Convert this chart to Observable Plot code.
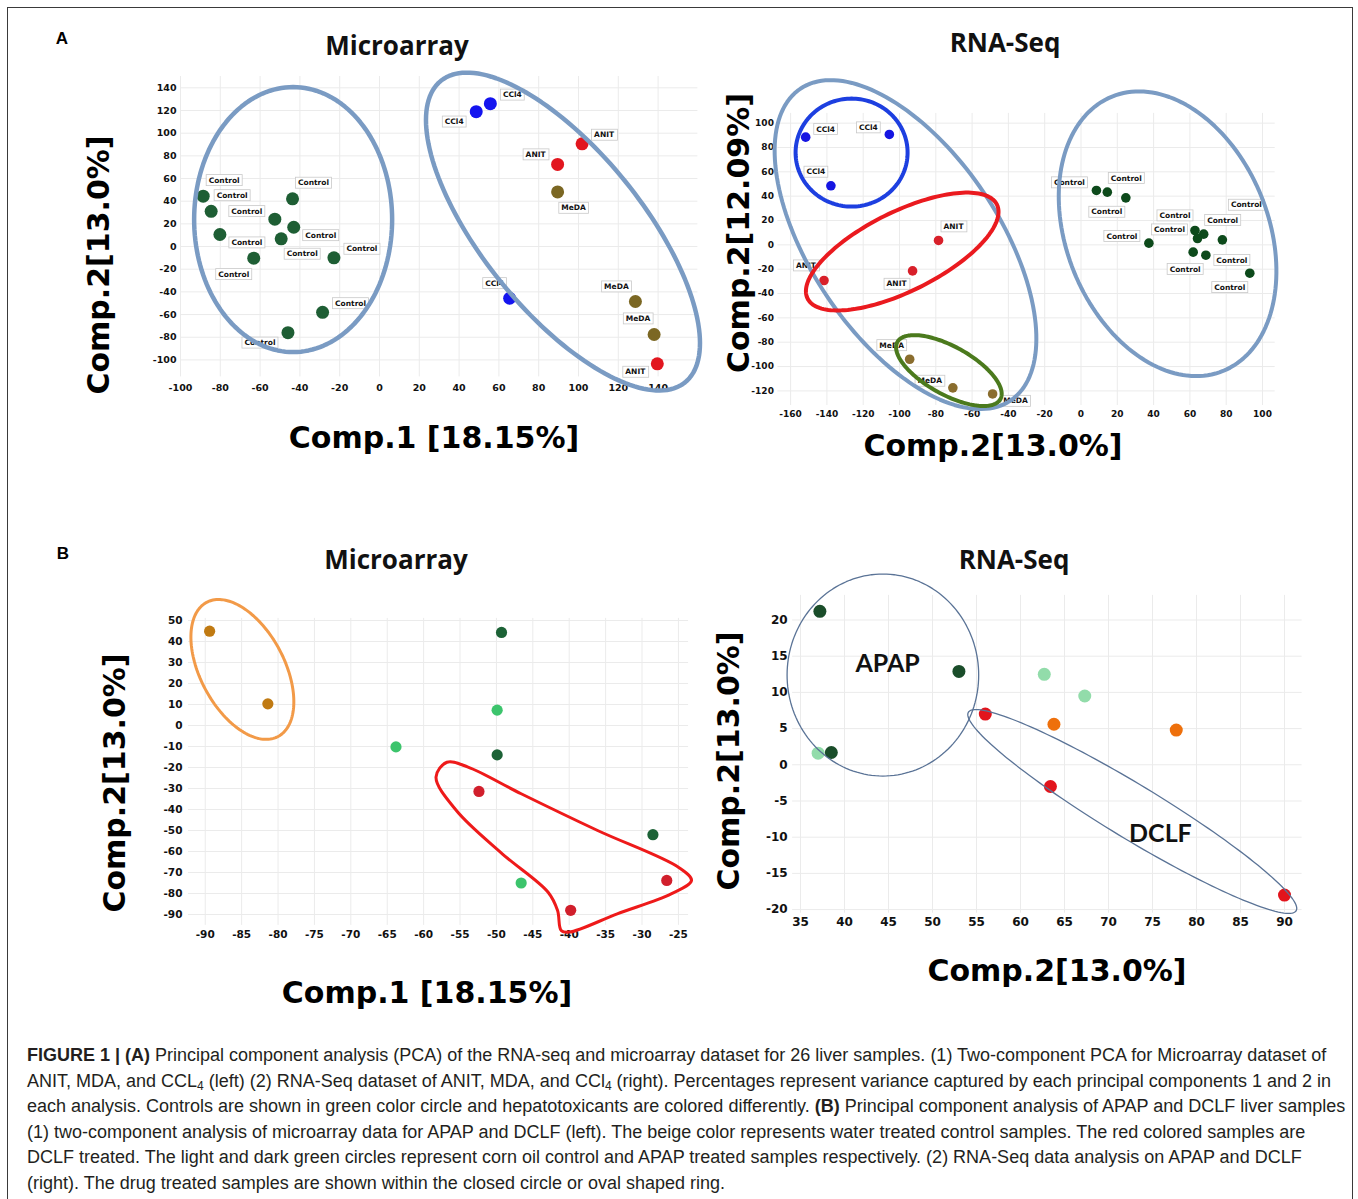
<!DOCTYPE html>
<html>
<head>
<meta charset="utf-8">
<script src="https://cdn.jsdelivr.net/npm/d3@7"></script>
<script src="https://cdn.jsdelivr.net/npm/@observablehq/plot@0.6"></script>
<style>
  body { margin: 0; background: #fff; }
  #fig { position: relative; width: 1358px; height: 1199px; overflow: hidden; background: #fff; font-family: "Liberation Sans", Arial, sans-serif; }
  .abs { position: absolute; }
  .frame { left: 7px; top: 7px; width: 1346px; height: 1240px; border: 1.5px solid #3a3a3a; box-sizing: border-box; }
  .letter { font-weight: bold; font-size: 17px; color: #000; transform: translate(-50%, -50%); }
  .title { font-family: "Open Sans", Lato, sans-serif; font-weight: 700; font-size: 26px; color: #111; transform: translate(-50%, -50%); white-space: nowrap; }
  .axt { font-family: "DejaVu Sans", sans-serif; font-weight: bold; font-size: 30px; color: #000; white-space: nowrap; transform: translate(-50%, -50%); }
  .axt.rot { transform: translate(-50%, -50%) rotate(-90deg); }
  .caption { left: 27px; top: 1043px; font-size: 18px; line-height: 25.6px; color: #231f20; }
  .caption div { white-space: nowrap; }
  .caption sub { font-size: 12px; vertical-align: -3px; line-height: 0; }
</style>
</head>
<body>
<div id="fig">
  <div class="abs frame"></div>
  <div class="abs letter" style="left:62px;top:39px">A</div>
  <div class="abs letter" style="left:63px;top:554px">B</div>
  <div class="abs title" style="left:397px;top:45px">Microarray</div>
  <div class="abs title" style="left:1005px;top:42px">RNA-Seq</div>
  <div class="abs title" style="left:396px;top:559px">Microarray</div>
  <div class="abs title" style="left:1014px;top:559px">RNA-Seq</div>
  <div class="abs axt rot" style="left:98px;top:265px">Comp.2[13.0%]</div>
  <div class="abs axt" style="left:434px;top:437px">Comp.1 [18.15%]</div>
  <div class="abs axt rot" style="left:738px;top:233px">Comp.2[12.09%]</div>
  <div class="abs axt" style="left:993px;top:445px">Comp.2[13.0%]</div>
  <div class="abs axt rot" style="left:114px;top:783px">Comp.2[13.0%]</div>
  <div class="abs axt" style="left:427px;top:992px">Comp.1 [18.15%]</div>
  <div class="abs axt rot" style="left:728px;top:761px">Comp.2[13.0%]</div>
  <div class="abs axt" style="left:1057px;top:970px">Comp.2[13.0%]</div>
  <div class="abs caption">
    <div><b>FIGURE 1 | (A)</b> Principal component analysis (PCA) of the RNA-seq and microarray dataset for 26 liver samples. (1) Two-component PCA for Microarray dataset of</div>
    <div>ANIT, MDA, and CCL<sub>4</sub> (left) (2) RNA-Seq dataset of ANIT, MDA, and CCl<sub>4</sub> (right). Percentages represent variance captured by each principal components 1 and 2 in</div>
    <div>each analysis. Controls are shown in green color circle and hepatotoxicants are colored differently. <b>(B)</b> Principal component analysis of APAP and DCLF liver samples</div>
    <div>(1) two-component analysis of microarray data for APAP and DCLF (left). The beige color represents water treated control samples. The red colored samples are</div>
    <div>DCLF treated. The light and dark green circles represent corn oil control and APAP treated samples respectively. (2) RNA-Seq data analysis on APAP and DCLF</div>
    <div>(right). The drug treated samples are shown within the closed circle or oval shaped ring.</div>
  </div>
</div>
<script>
// ---------------- DATA ----------------
// Panel A, Microarray (Comp.1, Comp.2)
const aMicroControlX = [-88.6, -84.6, -80.2, -63.2, -52.6, -49.4, -43.7, -43.1, -22.9, -28.6, -46.0];
const aMicroControlY = [44.4, 31.1, 10.6, -10.3, 24.1, 6.8, 42.1, 17.0, -10.0, -58.0, -76.0];
const aMicroCCl4X = [48.6, 55.7, 65.4];
const aMicroCCl4Y = [119, 126, -45.6];
const aMicroANITX = [101.8, 89.5, 139.6];
const aMicroANITY = [90.6, 72.4, -103.5];
const aMicroMeDAX = [89.5, 128.6, 138.0];
const aMicroMeDAY = [48.2, -48.5, -77.6];
const aMicroXTicks = [-100, -80, -60, -40, -20, 0, 20, 40, 60, 80, 100, 120, 140];
const aMicroYTicks = [-100, -80, -60, -40, -20, 0, 20, 40, 60, 80, 100, 120, 140];

// Panel A, RNA-Seq
const aRnaControlX = [8.5, 14.5, 24.7, 37.4, 62.8, 67.6, 64.2, 77.9, 61.8, 68.8, 93.0];
const aRnaControlY = [44.7, 43.3, 38.6, 1.4, 11.8, 8.8, 5.2, 4.1, -6.0, -8.5, -23.3];
const aRnaCCl4X = [-151.7, -105.6, -137.8];
const aRnaCCl4Y = [88.5, 90.7, 48.5];
const aRnaANITX = [-78.5, -92.8, -141.6];
const aRnaANITY = [3.6, -21.4, -29.3];
const aRnaMeDAX = [-94.4, -70.6, -48.7];
const aRnaMeDAY = [-94.0, -117.5, -122.5];
const aRnaXTicks = [-160, -140, -120, -100, -80, -60, -40, -20, 0, 20, 40, 60, 80, 100];
const aRnaYTicks = [-120, -100, -80, -60, -40, -20, 0, 20, 40, 60, 80, 100];

// Panel B, Microarray
const bMicroWaterX = [-89.4, -81.4];
const bMicroWaterY = [44.9, 10.3];
const bMicroAPAPX = [-49.3, -49.9, -28.5];
const bMicroAPAPY = [44.3, -14.0, -52.0];
const bMicroCornOilX = [-49.9, -63.8, -46.6];
const bMicroCornOilY = [7.3, -10.2, -75.0];
const bMicroDCLFX = [-52.4, -39.8, -26.6];
const bMicroDCLFY = [-31.4, -88.0, -73.8];
const bMicroXTicks = [-90, -85, -80, -75, -70, -65, -60, -55, -50, -45, -40, -35, -30, -25];
const bMicroYTicks = [-90, -80, -70, -60, -50, -40, -30, -20, -10, 0, 10, 20, 30, 40, 50];

// Panel B, RNA-Seq
const bRnaAPAPX = [37.2, 53.0, 38.5];
const bRnaAPAPY = [21.2, 12.9, 1.7];
const bRnaCornOilX = [37.0, 62.7, 67.3];
const bRnaCornOilY = [1.6, 12.5, 9.5];
const bRnaDCLFX = [56.0, 63.4, 90.0];
const bRnaDCLFY = [7.0, -3.0, -18.0];
const bRnaWaterX = [63.8, 77.7];
const bRnaWaterY = [5.6, 4.8];
const bRnaXTicks = [35, 40, 45, 50, 55, 60, 65, 70, 75, 80, 85, 90];
const bRnaYTicks = [-20, -15, -10, -5, 0, 5, 10, 15, 20];

// ---------------- ANNOTATION LAYOUT (label offsets in px, rings) ----------------
const aMicroControlOff = [[21,-16],[21,-16],[27,8],[-20,16],[-28,-8],[21,15],[21,-16],[27,8],[28,-9],[28,-9],[-28,10]];
const aMicroCCl4Off = [[-22,10],[22,-9],[-15,-15]];
const aMicroANITOff = [[22,-9],[-22,-10],[-22,8]];
const aMicroMeDAOff = [[16,16],[-19,-15],[-16,-16]];
const aRnaControlOff = [[-27,-8],[19,-14],[-19,14],[-27,-7],[-20,-15],[19,-14],[-28,-9],[24,-35],[-8,17],[26,5],[-20,14]];
const aRnaCCl4Off = [[20,-8],[-21,-7],[-15,-14]];
const aRnaANITOff = [[15,-14],[-16,13],[-18,-15]];
const aRnaMeDAOff = [[-18,-14],[-23,-7],[23,7]];

const steel = "#7a9bc3";
const aMicroRings = [
  {cx: -43.4, cy: 23.8, a: 99, b: 132.5, angle: 0, color: steel, width: 4.5},
  {cx: 92.2, cy: 13.2, a: 194, b: 80, angle: 51, color: steel, width: 4.5}
];
const aRnaRings = [
  {cx: -96.7, cy: 0.2, a: 188, b: 94, angle: 56, color: steel, width: 4},
  {cx: 47.7, cy: 9.1, a: 148, b: 101, angle: 68, color: steel, width: 4},
  {cx: -126.4, cy: 75.8, a: 56, b: 54, angle: 0, color: "#1d3fe0", width: 4},
  {cx: -98.5, cy: -5.5, a: 105.7, b: 39.7, angle: -26.4, color: "#ea1a1f", width: 4},
  {cx: -72.8, cy: -103.3, a: 58.9, b: 24, angle: 29, color: "#4b7a1d", width: 4}
];
const bMicroRings = [
  {cx: -84.9, cy: 26.7, a: 76, b: 42, angle: 62, color: "#f29a48", width: 3}
];
const bMicroDCLFOutlineX = [-56.8, -58.3, -55.5, -49.2, -42.9, -41.6, -41.1, -40.0, -33.4, -26.0, -23.2, -25.0, -36.1, -46.6, -53.9];
const bMicroDCLFOutlineY = [-17.5, -24.6, -40.5, -61.1, -79.4, -88.1, -97.6, -98.4, -89.7, -80.2, -73.8, -67.5, -50.0, -32.5, -19.8];
const bRnaRings = [
  {cx: 44.36, cy: 12.4, a: 95.8, b: 101, angle: 0, color: "#5a7396", width: 1.3},
  {cx: 72.7, cy: -6.45, a: 191.6, b: 27, angle: 31.2, color: "#5a7396", width: 1.3}
];
const bRnaNoteText = ["APAP", "DCLF"];
const bRnaNoteX = [44.9, 75.9];
const bRnaNoteY = [13.9, -9.5];

// ---------------- RENDER ----------------
const NS = "http://www.w3.org/2000/svg";
const boxedWords = new Set(["Control", "CCl4", "ANIT", "MeDA"]);
const fig = document.getElementById("fig");
const pts = (xs, ys) => xs.map((x, i) => ({x, y: ys[i]}));

function ringPoints(r, kx, ky) {
  const out = [];
  const th = r.angle * Math.PI / 180;
  const n = 160;
  for (let i = 0; i < n; i++) {
    const t = i / n * 2 * Math.PI;
    const ox = r.a * Math.cos(t) * Math.cos(th) - r.b * Math.sin(t) * Math.sin(th);
    const oy = r.a * Math.cos(t) * Math.sin(th) + r.b * Math.sin(t) * Math.cos(th);
    out.push({x: r.cx + ox / kx, y: r.cy - oy / ky});
  }
  return out;
}

function panel(cfg) {
  const [L, T, W, H] = cfg.box;
  const [x0, x1, y0, y1] = cfg.area;
  const kx = (x1 - x0) / (cfg.xDomain[1] - cfg.xDomain[0]);
  const ky = (y1 - y0) / (cfg.yDomain[1] - cfg.yDomain[0]);
  const marks = [
    Plot.ruleX(cfg.xTicks, {stroke: "#ebebeb", strokeWidth: 1}),
    Plot.ruleY(cfg.yTicks, {stroke: "#ebebeb", strokeWidth: 1})
  ];
  for (const s of cfg.series) {
    marks.push(Plot.dot(pts(s.xs, s.ys), {x: "x", y: "y", r: cfg.r, fill: s.color, stroke: s.edge || "none", strokeWidth: 0.6}));
  }
  const labelRows = [];
  for (const s of cfg.series) {
    if (!s.off) continue;
    s.xs.forEach((x, i) => {
      const o = s.off[i];
      labelRows.push({x: x + o[0] / kx, y: s.ys[i] - o[1] / ky, t: s.name});
    });
  }
  if (labelRows.length) {
    marks.push(Plot.text(labelRows, {x: "x", y: "y", text: "t", fontSize: cfg.labelSize, fontWeight: "bold", fontFamily: "DejaVu Sans", fill: "#111"}));
  }
  for (const r of (cfg.rings || [])) {
    marks.push(Plot.line(ringPoints(r, kx, ky), {x: "x", y: "y", stroke: r.color, strokeWidth: r.width, curve: "linear-closed"}));
  }
  for (const sh of (cfg.shapes || [])) {
    marks.push(Plot.line(pts(sh.xs, sh.ys), {x: "x", y: "y", stroke: sh.color, strokeWidth: sh.width, curve: "catmull-rom-closed"}));
  }
  if (cfg.notes) {
    marks.push(Plot.text(cfg.notes, {x: "x", y: "y", text: "t", fontSize: 25, fontFamily: "Lato, 'Open Sans', sans-serif", fill: "#111"}));
  }
  const svg = Plot.plot({
    width: W, height: H,
    marginLeft: x0 - L, marginRight: L + W - x1, marginTop: y0 - T, marginBottom: T + H - y1,
    x: {domain: cfg.xDomain, ticks: cfg.xTicks, tickSize: 0, tickPadding: cfg.xPad, tickFormat: d => String(d), label: null},
    y: {domain: cfg.yDomain, ticks: cfg.yTicks, tickSize: 0, tickPadding: cfg.yPad, tickFormat: d => String(d), label: null},
    style: {fontFamily: "DejaVu Sans", fontWeight: "bold", fontSize: cfg.tickSize + "px", color: "#111", background: "transparent", overflow: "visible"},
    marks
  });
  svg.style.position = "absolute";
  svg.style.left = L + "px";
  svg.style.top = T + "px";
  svg.style.overflow = "visible";
  fig.appendChild(svg);
  // white boxes behind sample labels
  svg.querySelectorAll("text").forEach(t => {
    if (!boxedWords.has(t.textContent)) return;
    const b = t.getBBox();
    const rect = document.createElementNS(NS, "rect");
    rect.setAttribute("x", b.x - 2.5);
    rect.setAttribute("y", b.y - 1);
    rect.setAttribute("width", b.width + 5);
    rect.setAttribute("height", b.height + 2);
    rect.setAttribute("fill", "#fff");
    rect.setAttribute("stroke", "#c9c9c9");
    rect.setAttribute("stroke-width", "0.8");
    const tr = t.getAttribute("transform");
    if (tr) rect.setAttribute("transform", tr);
    t.parentNode.insertBefore(rect, t);
  });
}

panel({
  box: [120, 60, 600, 360], area: [180, 697.4, 76, 376.4],
  xDomain: [-100, 160], yDomain: [-115, 150],
  xTicks: aMicroXTicks, yTicks: aMicroYTicks, xPad: 7, yPad: 4, tickSize: 9.5,
  r: 6.5, labelSize: 7.5,
  series: [
    {name: "Control", xs: aMicroControlX, ys: aMicroControlY, color: "#1e5e34", off: aMicroControlOff},
    {name: "CCl4", xs: aMicroCCl4X, ys: aMicroCCl4Y, color: "#1414ef", off: aMicroCCl4Off},
    {name: "ANIT", xs: aMicroANITX, ys: aMicroANITY, color: "#e2161f", off: aMicroANITOff},
    {name: "MeDA", xs: aMicroMeDAX, ys: aMicroMeDAY, color: "#7b6723", off: aMicroMeDAOff}
  ],
  rings: aMicroRings
});

panel({
  box: [730, 95, 560, 330], area: [777.4, 1274.7, 112.9, 405],
  xDomain: [-167, 107], yDomain: [-132, 108],
  xTicks: aRnaXTicks, yTicks: aRnaYTicks, xPad: 5, yPad: 4, tickSize: 9,
  r: 4.8, labelSize: 7.5,
  series: [
    {name: "Control", xs: aRnaControlX, ys: aRnaControlY, color: "#0d4a1b", off: aRnaControlOff},
    {name: "CCl4", xs: aRnaCCl4X, ys: aRnaCCl4Y, color: "#1515e2", off: aRnaCCl4Off},
    {name: "ANIT", xs: aRnaANITX, ys: aRnaANITY, color: "#d8202a", off: aRnaANITOff},
    {name: "MeDA", xs: aRnaMeDAX, ys: aRnaMeDAY, color: "#8a6d2e", off: aRnaMeDAOff}
  ],
  rings: aRnaRings
});

panel({
  box: [130, 600, 580, 350], area: [188, 688.1, 617.9, 924.9],
  xDomain: [-92.3, -23.6], yDomain: [-95.2, 51],
  xTicks: bMicroXTicks, yTicks: bMicroYTicks, xPad: 5, yPad: 6, tickSize: 10.5,
  r: 5.6,
  series: [
    {name: "Water", xs: bMicroWaterX, ys: bMicroWaterY, color: "#c07a12"},
    {name: "APAP", xs: bMicroAPAPX, ys: bMicroAPAPY, color: "#1c6236"},
    {name: "Corn oil", xs: bMicroCornOilX, ys: bMicroCornOilY, color: "#3cc46c"},
    {name: "DCLF", xs: bMicroDCLFX, ys: bMicroDCLFY, color: "#d11f2c"}
  ],
  rings: bMicroRings,
  shapes: [{xs: bMicroDCLFOutlineX, ys: bMicroDCLFOutlineY, color: "#ee1a1a", width: 3}]
});

panel({
  box: [740, 580, 580, 350], area: [792.1, 1301.6, 594.9, 912.7],
  xDomain: [34.1, 92], yDomain: [-20.5, 23.4],
  xTicks: bRnaXTicks, yTicks: bRnaYTicks, xPad: 4, yPad: 5, tickSize: 12,
  r: 6.5,
  series: [
    {name: "APAP", xs: bRnaAPAPX, ys: bRnaAPAPY, color: "#1a4d2a"},
    {name: "Corn oil", xs: bRnaCornOilX, ys: bRnaCornOilY, color: "#92dcaa"},
    {name: "DCLF", xs: bRnaDCLFX, ys: bRnaDCLFY, color: "#e2141c"},
    {name: "Water", xs: bRnaWaterX, ys: bRnaWaterY, color: "#ee700c"}
  ],
  rings: bRnaRings,
  notes: bRnaNoteText.map((t, i) => ({t, x: bRnaNoteX[i], y: bRnaNoteY[i]}))
});
</script>
</body>
</html>
